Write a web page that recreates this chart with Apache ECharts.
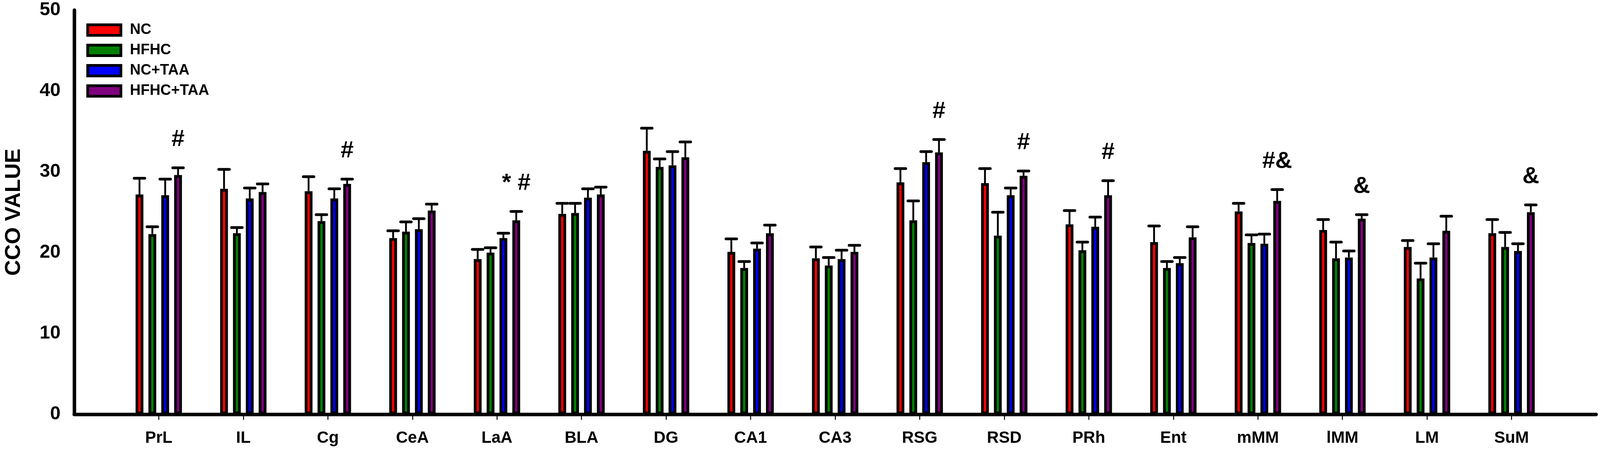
<!DOCTYPE html>
<html>
<head>
<meta charset="utf-8">
<script src="https://cdn.jsdelivr.net/npm/echarts@6/dist/echarts.min.js"></script>
<style>
  html, body { margin: 0; padding: 0; background: #fff; overflow: hidden; }
  #main { width: 100vw; height: 100vh; }
</style>
</head>
<body>
<div id="main"></div>
<script>
// brain regions along the x axis
let categories = ["PrL", "IL", "Cg", "CeA", "LaA", "BLA", "DG", "CA1", "CA3",
    "RSG", "RSD", "PRh", "Ent", "mMM", "lMM", "LM", "SuM"];

let groupNames = ["NC", "HFHC", "NC+TAA", "HFHC+TAA"];
let groupColors = ["#ff0000", "#008000", "#0000ff", "#800080"];

// means
let ncMean = [27.2, 27.9, 27.6, 21.8, 19.2, 24.8, 32.6, 20.1, 19.3, 28.7, 28.6, 23.5, 21.3, 25.1, 22.8, 20.7, 22.4];
let hfhcMean = [22.3, 22.4, 23.9, 22.6, 20.0, 24.9, 30.6, 18.1, 18.4, 24.0, 22.1, 20.3, 18.1, 21.2, 19.3, 16.8, 20.7];
let ncTaaMean = [27.1, 26.7, 26.7, 22.9, 21.8, 26.8, 30.8, 20.5, 19.2, 31.2, 27.1, 23.2, 18.7, 21.1, 19.4, 19.4, 20.2];
let hfhcTaaMean = [29.6, 27.5, 28.5, 25.2, 24.0, 27.2, 31.8, 22.4, 20.1, 32.4, 29.5, 27.1, 21.9, 26.4, 24.2, 22.7, 25.0];

// error (SEM, upper only)
let ncErr = [2.0, 2.4, 1.8, 0.9, 1.2, 1.3, 2.8, 1.6, 1.4, 1.7, 1.8, 1.7, 2.0, 1.0, 1.3, 0.8, 1.7];
let hfhcErr = [0.9, 0.7, 0.8, 1.2, 0.6, 1.2, 1.0, 0.8, 1.0, 2.4, 2.9, 1.0, 0.8, 1.0, 2.0, 1.9, 1.8];
let ncTaaErr = [2.0, 1.3, 1.2, 1.3, 0.6, 1.1, 1.7, 0.7, 1.1, 1.3, 0.9, 1.2, 0.7, 1.2, 0.8, 1.7, 0.9];
let hfhcTaaErr = [0.9, 1.0, 0.6, 0.8, 1.1, 0.9, 1.9, 1.0, 0.8, 1.6, 0.6, 1.8, 1.3, 1.4, 0.5, 1.8, 0.9];

// significance marks, drawn over the HFHC+TAA bar
let marks = ["#", "", "#", "", "* #", "", "", "", "", "#", "#", "#", "", "#&", "&", "", "&"];

let yTicks = [0, 10, 20, 30, 40, 50];

let means = [ncMean, hfhcMean, ncTaaMean, hfhcTaaMean];
let errs = [ncErr, hfhcErr, ncTaaErr, hfhcTaaErr];

const FONT = "Arial, 'Liberation Sans', sans-serif";
const BAR_W = 20;
const BAR_GAP = 0.645;
const CAP_HALF = 13.6;
const catPos = categories.map((c, i) => i + 1);

// centre of bar k inside its group, same rule the bar layout uses
function barOffset(k) {
    return (k - 1.5) * BAR_W * (1 + BAR_GAP);
}

let chartDom = document.getElementById("main");
let myChart = echarts.init(chartDom);

let barSeries = groupNames.map((name, k) => ({
    name: name,
    type: "bar",
    barWidth: BAR_W,
    barGap: (BAR_GAP * 100).toFixed(1) + "%",
    z: 3,
    itemStyle: {
        color: groupColors[k],
        borderColor: "#000",
        borderWidth: 7,
    },
    data: means[k].map((v, i) => [catPos[i], v]),
}));

let errData = [];
groupNames.forEach((name, k) => {
    means[k].forEach((v, i) => {
        errData.push([catPos[i], v, v + errs[k][i], k]);
    });
});

let markData = [];
marks.forEach((m, i) => {
    if (m) markData.push([catPos[i], hfhcTaaMean[i] + hfhcTaaErr[i], m]);
});

let option = {
    animation: false,
    backgroundColor: "#fff",
    grid: { left: 184, right: 10, top: 26, bottom: 94 },
    legend: {
        data: groupNames,
        orient: "vertical",
        left: 221,
        top: 58,
        padding: 0,
        itemGap: 14,
        itemWidth: 85,
        itemHeight: 27,
        icon: "rect",
        selectedMode: false,
        itemStyle: { borderColor: "#000", borderWidth: 7 },
        textStyle: {
            fontFamily: FONT,
            fontSize: 38,
            fontWeight: "bold",
            color: "#000",
            lineHeight: 38,
            padding: [0, 0, 0, 18],
        },
    },
    xAxis: {
        type: "value",
        min: 0,
        max: 18,
        splitLine: { show: false },
        axisLine: { lineStyle: { color: "#000", width: 9, cap: "round" } },
        axisTick: {
            customValues: catPos,
            length: 14,
            lineStyle: { color: "#000", width: 2.5 },
        },
        axisLabel: {
            customValues: catPos,
            formatter: (v) => categories[v - 1] || "",
            fontFamily: FONT,
            fontSize: 42,
            fontWeight: "bold",
            color: "#000",
            margin: 40,
        },
    },
    yAxis: {
        type: "value",
        min: 0,
        max: 50,
        interval: 10,
        name: "CCO VALUE",
        nameLocation: "middle",
        nameGap: 126,
        nameTextStyle: {
            fontFamily: FONT,
            fontSize: 56,
            fontWeight: "bold",
            color: "#000",
        },
        splitLine: { show: false },
        axisTick: { show: false },
        axisLine: { show: true, lineStyle: { color: "#000", width: 9, cap: "round" } },
        axisLabel: {
            customValues: yTicks,
            fontFamily: FONT,
            fontSize: 48,
            fontWeight: "bold",
            color: "#000",
            margin: 35,
        },
    },
    series: barSeries.concat([
        {
            name: "err",
            type: "custom",
            z: 2,
            data: errData,
            renderItem: function (params, api) {
                let x = api.value(0);
                let base = api.coord([x, api.value(1)]);
                let top = api.coord([x, api.value(2)]);
                let xc = base[0] + barOffset(api.value(3));
                return {
                    type: "group",
                    children: [
                        {
                            type: "line",
                            shape: { x1: xc, y1: base[1], x2: xc, y2: top[1] },
                            style: { stroke: "#000", lineWidth: 4.7 },
                        },
                        {
                            type: "line",
                            shape: { x1: xc - CAP_HALF, y1: top[1], x2: xc + CAP_HALF, y2: top[1] },
                            style: { stroke: "#000", lineWidth: 7, lineCap: "round" },
                        },
                    ],
                };
            },
        },
        {
            name: "marks",
            type: "custom",
            z: 4,
            data: markData,
            renderItem: function (params, api) {
                let p = api.coord([api.value(0), api.value(1)]);
                return {
                    type: "text",
                    x: p[0] + barOffset(3),
                    y: p[1] - 72,
                    style: {
                        text: markData[params.dataIndex][2],
                        fill: "#000",
                        fontFamily: FONT,
                        fontSize: 60,
                        fontWeight: "bold",
                        align: "center",
                        verticalAlign: "middle",
                    },
                };
            },
        },
    ]),
};

myChart.setOption(option);
</script>
</body>
</html>
